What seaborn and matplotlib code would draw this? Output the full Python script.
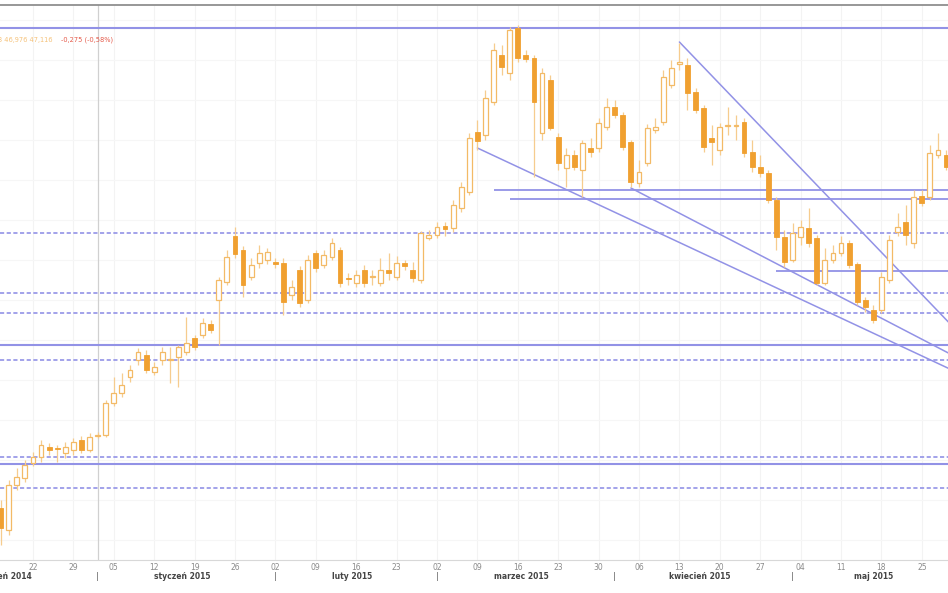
import numpy as np
import pandas as pd
import matplotlib
matplotlib.use("Agg")
import matplotlib.pyplot as plt
import seaborn as sns

# trading days shown on the chart
dates = pd.bdate_range("2014-12-16", "2015-05-28")

# OHLC values (chart units)
opens = [92, 70, 115, 122, 137, 143, 153, 152, 147, 150,
         160, 150, 164, 165, 197, 207, 223, 240, 245, 228,
         240, 240, 243, 248, 262, 265, 276, 300, 318, 364,
         350, 323, 337, 340, 338, 337, 305, 330, 300, 347,
         335, 343, 350, 322, 317, 330, 323, 317, 330, 323,
         337, 330, 320, 362, 365, 374, 372, 392, 408, 468,
         465, 498, 545, 527, 572, 545, 542, 467, 520, 463,
         432, 445, 430, 452, 452, 473, 493, 485, 458, 417,
         437, 470, 478, 515, 536, 535, 508, 492, 462, 450,
         474, 474, 478, 448, 433, 427, 400, 363, 340, 363,
         372, 362, 317, 340, 347, 357, 336, 300, 290, 290,
         320, 368, 378, 357, 404, 403, 445, 445]
highs = [100, 120, 132, 140, 148, 160, 157, 155, 158, 162,
         164, 167, 168, 200, 223, 227, 235, 252, 250, 238,
         253, 253, 255, 283, 265, 282, 280, 323, 350, 373,
         354, 342, 355, 352, 342, 342, 320, 334, 345, 350,
         350, 362, 353, 327, 330, 335, 330, 342, 347, 344,
         340, 338, 369, 370, 378, 378, 400, 418, 467, 480,
         510, 557, 555, 573, 575, 550, 545, 532, 525, 467,
         452, 450, 460, 462, 482, 502, 500, 488, 460, 440,
         476, 482, 530, 540, 557, 542, 512, 495, 475, 477,
         493, 485, 482, 460, 445, 430, 403, 370, 377, 380,
         392, 365, 352, 355, 364, 360, 338, 303, 295, 328,
         365, 387, 395, 410, 410, 455, 467, 450]
lows = [55, 65, 110, 118, 134, 138, 145, 138, 142, 145,
        147, 148, 162, 163, 194, 203, 218, 235, 227, 225,
        235, 217, 213, 245, 250, 262, 267, 255, 315, 342,
        303, 320, 332, 336, 332, 285, 300, 293, 297, 328,
        332, 340, 313, 315, 313, 313, 315, 314, 320, 320,
        330, 318, 317, 360, 362, 364, 368, 388, 405, 450,
        460, 495, 525, 520, 538, 538, 423, 460, 470, 430,
        413, 430, 403, 443, 448, 470, 482, 450, 413, 413,
        434, 467, 475, 512, 530, 490, 487, 448, 435, 445,
        465, 460, 443, 428, 423, 397, 350, 333, 338, 355,
        353, 315, 315, 337, 344, 332, 295, 288, 277, 287,
        317, 364, 355, 352, 394, 400, 442, 430]
closes = [72, 115, 123, 135, 143, 155, 150, 151, 153, 158,
          150, 163, 165, 197, 207, 215, 230, 248, 230, 233,
          248, 241, 253, 257, 253, 277, 270, 320, 343, 346,
          315, 335, 347, 348, 336, 298, 313, 297, 340, 332,
          345, 357, 317, 321, 325, 317, 324, 330, 327, 337,
          334, 322, 367, 365, 373, 371, 395, 413, 462, 459,
          502, 550, 533, 570, 542, 541, 498, 527, 472, 437,
          445, 433, 457, 448, 477, 493, 485, 453, 418, 428,
          472, 473, 523, 532, 538, 507, 490, 453, 458, 473,
          475, 475, 447, 433, 427, 400, 363, 338, 367, 373,
          357, 317, 340, 347, 357, 335, 298, 293, 280, 323,
          360, 373, 365, 403, 397, 447, 450, 433]

# horizontal levels
solid_levels = [572, 255, 136]
dashed_levels = [367, 307, 287, 240, 143, 112]
ray_levels = [410, 401, 329]
ray_starts = ["2015-03-11", "2015-03-13", "2015-04-29"]

# trend lines: (start date, start value, end date, end value)
trend_lines = [
    ("2015-03-09", 452, "2015-05-29", 229),
    ("2015-04-03", 412, "2015-05-29", 244),
    ("2015-04-13", 558, "2015-05-29", 272),
]

month_names = ["grudzień 2014", "styczeń 2015", "luty 2015",
               "marzec 2015", "kwiecień 2015", "maj 2015"]
month_starts = ["2014-12-01", "2015-01-01", "2015-02-01",
                "2015-03-01", "2015-04-01", "2015-05-01"]

tooltip_ohlc = "3 46,976 47,116 "
tooltip_change = "-0,275 (-0,58%)"


def pos(d):
    # trading-day position relative to the first candle
    return float(np.busday_count(np.datetime64("2014-12-16"),
                                 np.datetime64(pd.Timestamp(d).date())))


sns.set_theme(style="white")
plt.rcParams['font.family'] = ['DejaVu Sans']

fig = plt.figure(figsize=(9.48, 5.93), dpi=100)
ax = fig.add_axes([0, 1 - 560 / 593, 1, 555 / 593])

df = pd.DataFrame({"date": dates, "open": opens, "high": highs,
                   "low": lows, "close": closes})
df["x"] = np.arange(len(df))
up = df["close"] >= df["open"]

orange = "#F0A030"
orange_edge = "#F3BA66"
wick = "#F6CC8E"
blue = "#9292E6"

# faint grid
mondays = df.loc[df["date"].dt.dayofweek == 0, "x"]
for m in mondays:
    ax.axvline(m, color="#f3f3f3", lw=0.8, zorder=0)
for g in np.arange(60, 600, 40):
    ax.axhline(g, color="#f6f6f6", lw=0.8, zorder=0)

# crosshair on 1 Jan
ax.axvline(pos("2015-01-01"), color="#d0d0d0", lw=0.9, zorder=1)

# levels
for lv in solid_levels:
    ax.axhline(lv, color=blue, lw=1.5, zorder=2)
for lv in dashed_levels:
    ax.axhline(lv, color=blue, lw=1.2, ls=(0, (2.5, 1.5)), zorder=2)
for lv, st in zip(ray_levels, ray_starts):
    ax.hlines(lv, pos(st), 125, color=blue, lw=1.3, zorder=2)

tl = []
for k, (d0, v0, d1, v1) in enumerate(trend_lines):
    tl.append(pd.DataFrame({"x": [pos(d0), pos(d1)], "v": [v0, v1], "line": k}))
tl = pd.concat(tl)
sns.lineplot(data=tl, x="x", y="v", units="line", estimator=None,
             color=blue, lw=1.1, ax=ax, zorder=2)

# candles
ax.vlines(df["x"], df["low"], df["high"], color=wick, lw=0.9, zorder=3)
body_lo = np.minimum(df["open"], df["close"])
body_h = np.maximum(np.abs(df["close"] - df["open"]), 1.5)
ax.bar(df["x"][up], body_h[up], bottom=body_lo[up], width=0.6,
       color="white", edgecolor=orange_edge, linewidth=0.9, zorder=4)
ax.bar(df["x"][~up], body_h[~up], bottom=body_lo[~up], width=0.6,
       color=orange, edgecolor=orange, linewidth=0.6, zorder=4)

ax.set_xlim(-0.08, 117.24)
ax.set_ylim(40, 595)
ax.set_xlabel("")
ax.set_ylabel("")
ax.set_yticks([])
ax.set_xticks(mondays)
ax.set_xticklabels(df.loc[mondays.index, "date"].dt.strftime("%d"),
                   fontsize=5.5, color="#8a8a8a")
ax.tick_params(axis="x", length=0, pad=2)

for s in ["left", "right"]:
    ax.spines[s].set_visible(False)
ax.spines["top"].set_color("#8f8f8f")
ax.spines["top"].set_linewidth(1.3)
ax.spines["bottom"].set_color("#d8d8d8")
ax.spines["bottom"].set_linewidth(0.8)

# month labels
trans = ax.get_xaxis_transform()
for name, ms in zip(month_names, month_starts):
    first = pd.Timestamp(ms)
    last = first + pd.offsets.BMonthEnd(0)
    first_bd = pd.bdate_range(first, last)[0]
    center = (pos(first_bd) + pos(last)) / 2
    ax.text(center, -0.03, name, transform=trans, ha="center", va="center",
            fontsize=5.5, fontweight="bold", color="#444444", clip_on=False)
    if name != month_names[0]:
        ax.text(pos(first_bd), -0.03, "|", transform=trans, ha="center",
                va="center", fontsize=6, color="#666666")

# crosshair readout
ax.text(-0.002, 0.937, tooltip_ohlc, transform=ax.transAxes, fontsize=4.8,
        color="#F5C27A", va="center", ha="left")
ax.text(0.064, 0.937, tooltip_change, transform=ax.transAxes, fontsize=4.8,
        color="#E55A4A", va="center", ha="left")

plt.savefig("out.png", dpi=100)
